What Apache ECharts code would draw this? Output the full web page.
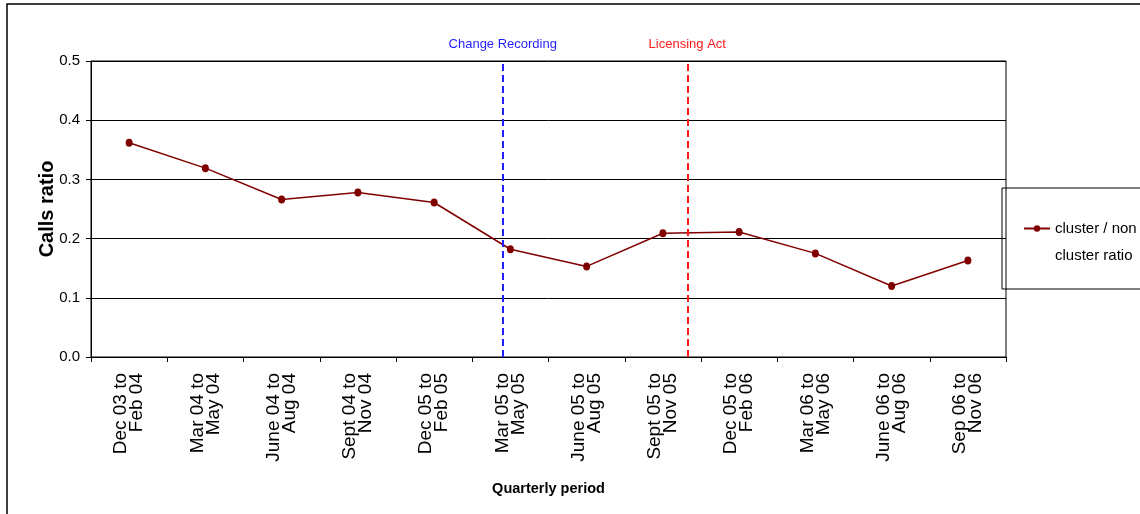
<!DOCTYPE html>
<html><head><meta charset="utf-8">
<script src="https://cdn.jsdelivr.net/npm/echarts@6/dist/echarts.min.js"></script>
<style>html,body{margin:0;padding:0;background:#fff}#c{width:1140px;height:514px}</style>
</head><body><div id="c"></div>
<script>
const categories = [
  'Dec 03 to\nFeb 04', 'Mar 04 to\nMay 04', 'June 04 to\nAug 04', 'Sept 04 to\nNov 04',
  'Dec 05 to\nFeb 05', 'Mar 05 to\nMay 05', 'June 05 to\nAug 05', 'Sept 05 to\nNov 05',
  'Dec 05 to\nFeb 06', 'Mar 06 to\nMay 06', 'June 06 to\nAug 06', 'Sep 06 to\nNov 06'
];
const ratioValues = [0.362, 0.319, 0.266, 0.278, 0.261, 0.182, 0.153, 0.209, 0.211, 0.175, 0.120, 0.163];
const yTickLabels = ['0.0', '0.1', '0.2', '0.3', '0.4', '0.5'];
const eventNames = ['Change Recording', 'Licensing Act'];
const eventPositions = [4.9, 7.32];
const seriesName = 'cluster / non\ncluster ratio';

const ARIAL = "'Liberation Sans',Arial,sans-serif";
const eventColors = ['#1f1fff', '#ff1a1a'];

const chart = echarts.init(document.getElementById('c'), null, {renderer: 'canvas'});
chart.setOption({
  animation: false,
  backgroundColor: '#fff',
  graphic: [{
    type: 'rect', silent: true,
    shape: {x: 7, y: 4, width: 1300, height: 700},
    style: {fill: 'none', stroke: '#000', lineWidth: 1.5}
  }],
  grid: {left: 91, right: 134, top: 61, bottom: 157, containLabel: false, outerBoundsMode: 'none',
         show: true, borderColor: '#000', borderWidth: 1, backgroundColor: 'transparent'},
  legend: {
    data: [seriesName],
    left: 1002, top: 188,
    orient: 'vertical',
    padding: [0, 60, 20, 21],
    borderColor: '#000', borderWidth: 1,
    itemWidth: 26, itemHeight: 8,
    formatter: (name) => ' \n' + name,
    textStyle: {fontFamily: ARIAL, fontSize: 15, color: '#000', lineHeight: 27}
  },
  xAxis: [{
    type: 'category', data: categories, boundaryGap: true,
    axisLine: {onZero: false, lineStyle: {color: '#000', width: 1}},
    axisTick: {show: true, length: 5, lineStyle: {color: '#000'}},
    axisLabel: {rotate: 90, margin: 16, fontFamily: ARIAL, fontSize: 19, lineHeight: 16, color: '#000', interval: 0},
    name: 'Quarterly period', nameLocation: 'middle', nameGap: 124, nameMoveOverlap: false,
    nameTextStyle: {fontFamily: ARIAL, fontWeight: 'bold', fontSize: 14.5, color: '#000'}
  }, {
    type: 'value', min: -0.5, max: 11.5, show: false
  }],
  yAxis: [{
    type: 'value', min: 0, max: 0.5, interval: 0.1,
    axisLine: {show: true, onZero: false, lineStyle: {color: '#000'}},
    axisTick: {show: true, length: 5, lineStyle: {color: '#000'}},
    axisLabel: {margin: 11, fontFamily: ARIAL, fontSize: 15, color: '#000',
                formatter: (v) => yTickLabels[Math.round(v * 10)]},
    splitLine: {show: true, lineStyle: {color: '#000', width: 1}},
    name: 'Calls ratio', nameLocation: 'middle', nameGap: 34, nameMoveOverlap: false,
    nameTextStyle: {fontFamily: ARIAL, fontWeight: 'bold', fontSize: 20, color: '#000'}
  }],
  series: [{
    name: seriesName, type: 'line', data: ratioValues,
    xAxisIndex: 0, yAxisIndex: 0,
    symbol: 'circle', symbolSize: [7, 8],
    lineStyle: {color: '#800000', width: 1.5},
    itemStyle: {color: '#800000'}
  }, {
    name: 'events', type: 'scatter', data: [],
    xAxisIndex: 1, yAxisIndex: 0,
    markLine: {
      silent: true, symbol: 'none',
      data: eventNames.map((n, i) => ({
        name: n, xAxis: eventPositions[i],
        lineStyle: {color: eventColors[i], type: [7, 4], width: 2},
        label: {show: true, position: 'end', formatter: n, distance: 10,
                color: eventColors[i], fontFamily: ARIAL, fontSize: 13}
      }))
    }
  }]
});
</script></body></html>
